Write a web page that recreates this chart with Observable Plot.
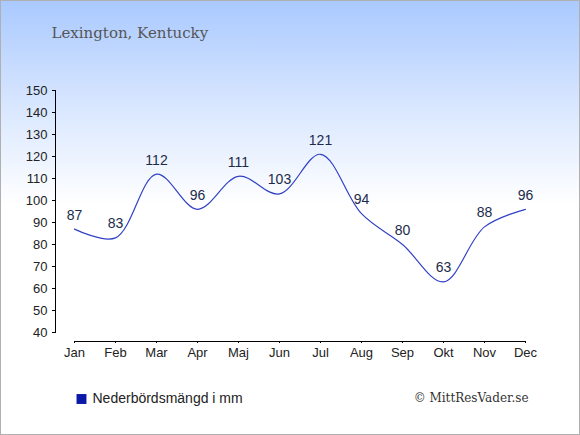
<!DOCTYPE html>
<html>
<head>
<meta charset="utf-8">
<script src="https://cdn.jsdelivr.net/npm/d3@7"></script>
<script src="https://cdn.jsdelivr.net/npm/@observablehq/plot@0.6"></script>
<style>
  html, body { margin: 0; padding: 0; background: #fff; }
  #chart {
    width: 580px; height: 435px; position: relative;
    background: linear-gradient(to bottom, #a9c9ff 0px, #d6e5ff 100px, #ffffff 205px, #ffffff 435px);
  }
  #chart svg {
    display: block;
    outline: 1px solid #b0b0b0;
    outline-offset: -1px;
  }
</style>
</head>
<body>
<div id="chart"></div>
<script>
const months = ["Jan","Feb","Mar","Apr","Maj","Jun","Jul","Aug","Sep","Okt","Nov","Dec"];
const precipitation = [87, 83, 112, 96, 111, 103, 121, 94, 80, 63, 88, 96];
const yTicks = [40, 50, 60, 70, 80, 90, 100, 110, 120, 130, 140, 150];
const title = "Lexington, Kentucky";
const legendLabel = "Nederbördsmängd i mm";
const credit = "© MittResVader.se";

const data = months.map((m, i) => ({month: m, value: precipitation[i]}));

const sans = "'Liberation Sans', Arial, sans-serif";
const serif = "'DejaVu Serif', Georgia, serif";

const chart = Plot.plot({
  width: 580,
  height: 435,
  marginLeft: 55,
  marginRight: 55,
  marginTop: 90,
  marginBottom: 94,
  style: {fontFamily: sans, fontSize: "13px", color: "#222", background: "transparent"},
  x: {type: "point", domain: months, range: [74, 525], padding: 0},
  y: {domain: [40, 150], range: [332, 90]},
  marks: [
    Plot.frame({anchor: "left", insetBottom: 9, stroke: "#000"}),
    Plot.frame({anchor: "bottom", insetLeft: 19, stroke: "#000"}),
    Plot.axisY({ticks: yTicks, tickSize: 3, tickPadding: 5, label: null, stroke: "#000", fill: "#222", fontSize: 13}),
    Plot.axisX({tickSize: 2, tickPadding: 4, label: null, stroke: "#000", fill: "#222", fontSize: 13}),
    Plot.line(data, {x: "month", y: "value", curve: "catmull-rom", stroke: "#3141c4", strokeWidth: 1.2}),
    Plot.text(data, {x: "month", y: "value", text: d => String(d.value), dy: -14, fill: "#1c2b4a", fontSize: 14, fontFamily: sans}),
    Plot.text([title], {frameAnchor: "top-left", dx: -4, dy: -57, text: d => d, textAnchor: "start", lineAnchor: "middle", fontFamily: serif, fontSize: 15, fill: "#555"}),
    Plot.dot([legendLabel], {frameAnchor: "bottom-left", dx: 26, dy: 57.5, symbol: "square", r: 5.6, fill: "#0a19a8", stroke: null}),
    Plot.text([legendLabel], {frameAnchor: "bottom-left", dx: 37, dy: 57.5, text: d => d, textAnchor: "start", lineAnchor: "middle", fontFamily: sans, fontSize: 14, fill: "#222"}),
    Plot.text([credit], {frameAnchor: "bottom-right", dx: 3, dy: 57, text: d => d, textAnchor: "end", lineAnchor: "middle", fontFamily: serif, fontSize: 12, fill: "#333"})
  ]
});
document.getElementById("chart").appendChild(chart);
</script>
</body>
</html>
